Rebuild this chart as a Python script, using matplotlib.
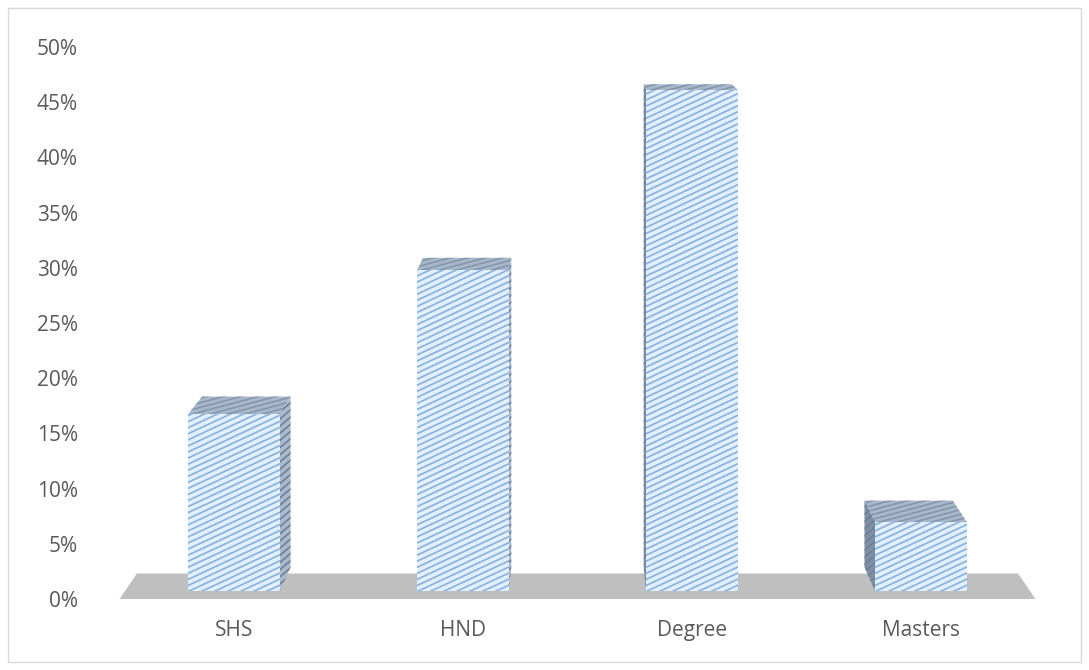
import numpy as np
import matplotlib.pyplot as plt
from matplotlib.patches import Polygon, Rectangle
from matplotlib.collections import LineCollection

# share of respondents by highest qualification
categories = ['SHS', 'HND', 'Degree', 'Masters']
shares = [16.67, 30.0, 46.67, 6.67]
yticks = [0, 5, 10, 15, 20, 25, 30, 35, 40, 45, 50]
ytick_labels = [f'{t}%' for t in yticks]

W, H = 1089, 670
plt.rcParams['font.family'] = ['Open Sans', 'DejaVu Sans']

fig = plt.figure(figsize=(W / 100, H / 100), dpi=100)
ax_rect = [119.5 / W, 71 / H, 916 / W, 552 / H]
ax = fig.add_axes(ax_rect)
ax.set_xlim(-0.5, 3.5)
ax.set_ylim(0, 50)

# pixels per data unit, used to keep hatch angle/spacing in screen space
px_x = ax_rect[2] * W / 4.0
px_y = ax_rect[3] * H / 50.0

# simple one-point perspective
vp = np.array([1.5, 60.8])
t_floor = 0.038
t_bar = 0.036
half_w = 0.2
bar_base = 0.7


def recede(pt, t):
    pt = np.asarray(pt, dtype=float)
    return pt + (vp - pt) * t


def hatched(poly, face, line, spacing=5.5, angle=25.0, lw=1.2, z=3):
    patch = Polygon(poly, closed=True, facecolor=face, edgecolor='none',
                    zorder=z, clip_on=False)
    ax.add_patch(patch)
    pts = np.asarray(poly) * [px_x, px_y]
    a = np.deg2rad(angle)
    d = np.array([np.cos(a), np.sin(a)])
    n = np.array([-d[1], d[0]])
    proj = pts @ n
    along = pts @ d
    segs = []
    for off in np.arange(proj.min() - spacing, proj.max() + spacing, spacing):
        p0 = n * off + d * (along.min() - 50)
        p1 = n * off + d * (along.max() + 50)
        segs.append([p0 / [px_x, px_y], p1 / [px_x, px_y]])
    lc = LineCollection(segs, colors=line, linewidths=lw, zorder=z + 0.1)
    ax.add_collection(lc)
    lc.set_clip_path(patch)
    lc.set_clip_on(True)


# floor
fl = [(-0.5, 0), (3.5, 0), tuple(recede((3.5, 0), t_floor)), tuple(recede((-0.5, 0), t_floor))]
ax.add_patch(Polygon(fl, closed=True, facecolor='#bfbfbf', edgecolor='none',
                     zorder=1, clip_on=False))

for i, v in enumerate(shares):
    top = 0.45 + 0.978 * v
    fl_b, fr_b = (i - half_w, bar_base), (i + half_w, bar_base)
    fl_t, fr_t = (i - half_w, top), (i + half_w, top)
    bl_t, br_t = recede(fl_t, t_bar), recede(fr_t, t_bar)
    # side face facing the vanishing point
    if i < vp[0]:
        side = [fr_b, fr_t, tuple(br_t), tuple(recede(fr_b, t_bar))]
        side_face = '#a9bacd'
    else:
        side = [fl_b, fl_t, tuple(bl_t), tuple(recede(fl_b, t_bar))]
        side_face = '#7e8fa3'
    hatched(side, side_face, '#6e8098', angle=40, z=2)
    hatched([fl_t, fr_t, tuple(br_t), tuple(bl_t)], '#a7b8ca', '#8496ac',
            spacing=4.5, angle=15, z=2)
    hatched([fl_b, fr_b, fr_t, fl_t], '#e2effc', '#86b1e2', angle=25, z=4)

ax.set_yticks(yticks)
ax.set_yticklabels(ytick_labels)
ax.set_xticks(range(len(categories)))
ax.set_xticklabels(categories)
ax.tick_params(axis='y', length=0, pad=30, labelsize=15, labelcolor='#595959')
ax.tick_params(axis='x', length=0, pad=15, labelsize=15, labelcolor='#595959')
for s in ax.spines.values():
    s.set_visible(False)
ax.patch.set_visible(False)

# chart area border
fig.patches.append(Rectangle((8 / W, 8 / H), 1 - 16 / W, 1 - 16 / H,
                             transform=fig.transFigure, facecolor='none',
                             edgecolor='#d9d9d9', linewidth=1))

fig.savefig('out.png', dpi=100)
